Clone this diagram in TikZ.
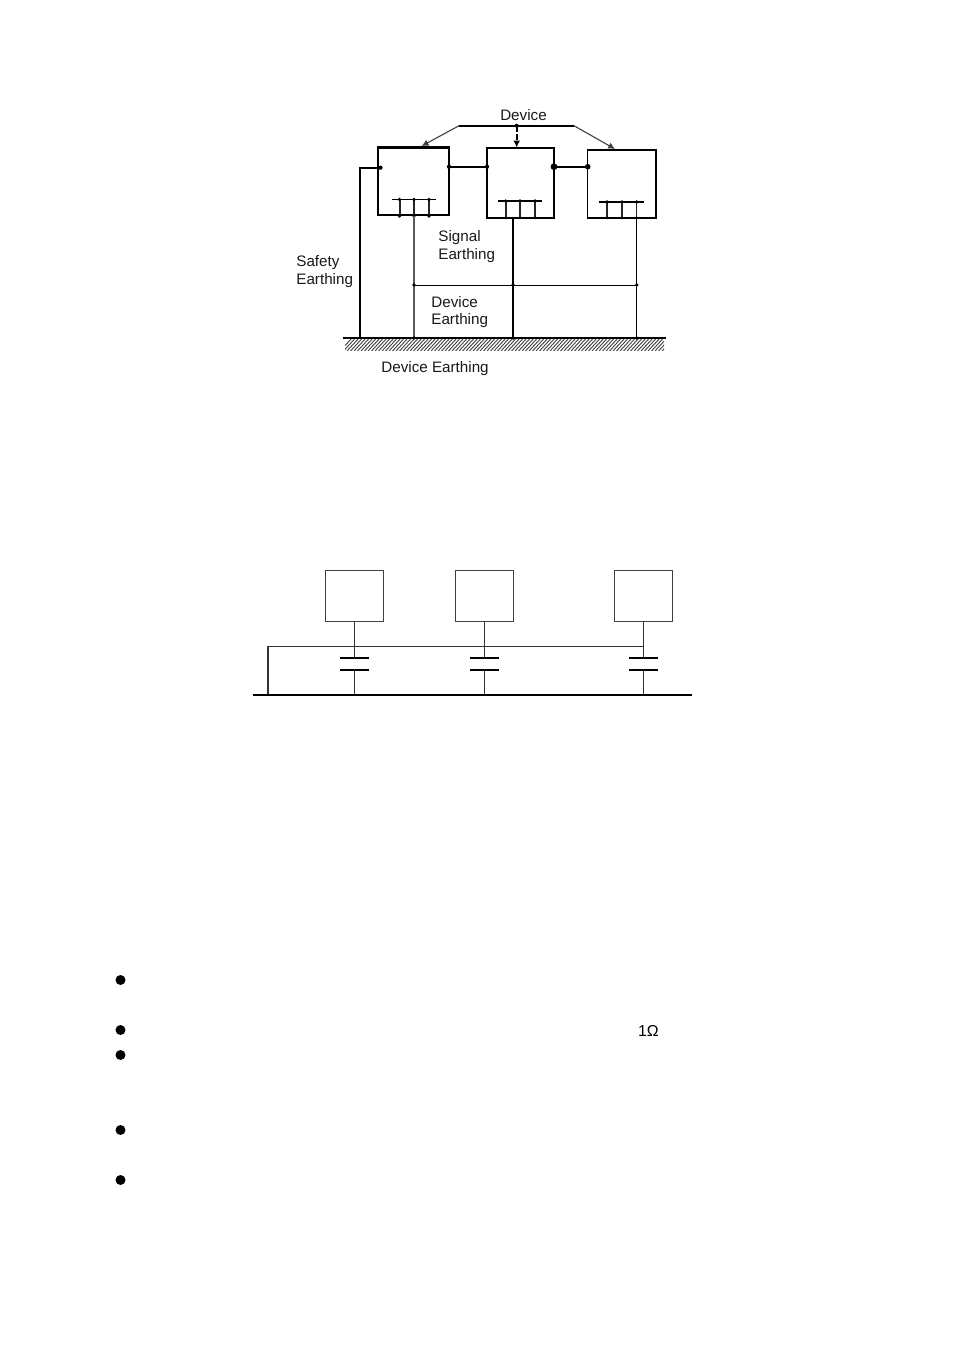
\documentclass[tikz,border=0pt]{standalone}
\usepackage{fontspec}
\setmainfont{Liberation Sans}
\usetikzlibrary{arrows.meta}
\tikzset{
  x=0.5pt,y=-0.5pt,
  wire/.style={draw=black,line width=0.6pt},
  heavy/.style={draw=black,line width=1pt},
  greywire/.style={draw=black!65,line width=0.75pt},
  thin wire/.style={draw=black!75,line width=0.55pt},
  bar/.style={draw=black,line width=1.1pt},
  lead/.style={draw=black!80,line width=0.75pt},
  tag/.style={anchor=west,inner sep=0pt,font=\fontsize{7.6}{9}\selectfont,text=black!90},
  dev/.style={draw=black,fill=none,inner sep=0pt,line width=#1},
  dev/.default=0.7pt,
  lower box/.style={draw=black!75,inner sep=0pt,line width=0.75pt,minimum width=29pt,minimum height=25.3pt},
  bullet/.style={circle,fill=black,inner sep=0pt,minimum size=5pt},
  dot/.style={circle,fill=black,inner sep=0pt,minimum size=#1},
  dot/.default=1.7pt
}
\begin{document}
\begin{tikzpicture}
\useasboundingbox (0,0) rectangle (954,1350);
\fill[white] (0,0) rectangle (954,1350);

% ----- upper diagram -----
\node[dev=1.1pt,minimum width=35.5pt,minimum height=33.75pt] (A) at (413.5,181.2) {};
\node[dev=0.95pt,minimum width=33.5pt,minimum height=34.75pt] (B) at (520.5,182.9) {};
\node[dev=0.65pt,minimum width=34.2pt,minimum height=34pt] (C) at (621.9,184) {};

% hatched ground
\begin{scope}
\clip (345,339) rectangle (664,350);
\foreach \k in {340,343.5,...,680}
  \draw[black!75,line width=0.45pt] (\k,351) -- (\k+12,338);
\end{scope}
\coordinate (gl) at (343,338);
\coordinate (gr) at (666,338);
\draw[line width=1pt] (gl) -- (gr);

% device brace
\coordinate (dl) at (459,125.7);
\coordinate (dr) at (574,125.7);
\coordinate (dm) at (516.7,125.7);
\coordinate (ta) at (421.7,146);
\coordinate (tb) at (516.7,147.5);
\coordinate (tc) at (615,149);
\draw[heavy] (dl) -- (dr);
\draw[thin wire,-{Latex[length=3.4pt,width=3.4pt]}] (dl) -- (ta);
\draw[thin wire,-{Latex[length=3.4pt,width=3.4pt]}] (dr) -- (tc);
\draw[heavy,dash pattern=on 3pt off 1pt,-{Latex[length=3.4pt,width=3.4pt]}] (dm) -- (tb);
\node[dot=2pt] at (dm) {};

% links between devices
\coordinate (a1) at (449,166.7);
\coordinate (b1) at (487,166.7);
\coordinate (b2) at (554,166.7);
\coordinate (c1) at (587.7,166.7);
\draw[heavy] (a1) -- (b1);
\draw[heavy] (b2) -- (c1);
\node[dot=2.1pt] at (a1) {};
\node[dot=2.1pt] at (b1) {};
\node[dot=3.4pt] at (b2) {};
\node[dot=2.8pt] at (c1) {};

% safety earthing
\coordinate (s1) at (380.5,167.7);
\coordinate (s2) at (360,167.7);
\coordinate (s3) at (360,338);
\draw[heavy] (s1) -- (s2) -- (s3);
\node[dot=2.1pt] at (s1) {};

% signal bars: box A
\coordinate (ab1) at (392,199.5); \coordinate (ab2) at (436,199.5);
\draw[wire] (ab1) -- (ab2);
\foreach \n/\px/\w in {p/399.5/1.0,q/414/0.75,r/429/1.0}{
  \coordinate (A\n t) at (\px,199.5);
  \coordinate (A\n b) at (\px,216);
  \draw[line width=\w pt,draw=black!85] (A\n t) -- (A\n b);
  \node[dot=1.8pt] at (A\n t) {};
  \node[dot=1.8pt] at (A\n b) {};
}
% box B
\coordinate (bb1) at (498,201); \coordinate (bb2) at (541.7,201);
\draw[heavy] (bb1) -- (bb2);
\foreach \n/\px/\w in {p/505.7/1.0,q/520/0.55,r/535/1.0}{
  \coordinate (B\n t) at (\px,201);
  \coordinate (B\n b) at (\px,218);
  \draw[line width=\w pt,draw=black!85] (B\n t) -- (B\n b);
  \node[dot=1.8pt] at (B\n t) {};
  \node[dot=1.4pt] at (B\n b) {};
}
% box C
\coordinate (cb1) at (599,202); \coordinate (cb2) at (643.7,202);
\draw[heavy] (cb1) -- (cb2);
\foreach \n/\px/\w in {p/607/0.6,q/622/1.0,r/636.7/0.6}{
  \coordinate (C\n t) at (\px,202);
  \coordinate (C\n b) at (\px,218);
  \draw[line width=\w pt,draw=black!85] (C\n t) -- (C\n b);
  \node[dot=1.8pt] at (C\n t) {};
  \node[dot=1.4pt] at (C\n b) {};
}

% verticals to ground
\coordinate (v1t) at (414,216);  \coordinate (v1m) at (414,285);  \coordinate (v1g) at (414,338);
\coordinate (v2t) at (513,218);  \coordinate (v2m) at (513,285);  \coordinate (v2g) at (513,338);
\coordinate (v3t) at (636.7,218);\coordinate (v3m) at (636.7,285);\coordinate (v3g) at (636.7,338);
\draw[greywire] (v1t) -- (v1g);
\draw[heavy] (v2t) -- (v2g);
\draw[wire] (v3t) -- (v3g);
\draw[wire,line width=0.5pt] (v1m) -- (v3m);
\foreach \p in {v1m,v2m,v3m,v1g,v2g,v3g}
  \node[dot=1.9pt] at (\p) {};

% labels
\node[tag,anchor=center] (l1) at (523.5,114.7) {Device};
\node[tag] (l2) at (438,237.3) {Signal};
\node[tag] (l3) at (438,255.3) {Earthing};
\node[tag] (l4) at (296,262.3) {Safety};
\node[tag] (l5) at (296,280.3) {Earthing};
\node[tag] (l6) at (431,301.8) {Device};
\node[tag] (l7) at (431,320.8) {Earthing};
\node[tag] (l8) at (381,368.3) {Device Earthing};

% ----- lower diagram -----
\node[lower box] (X) at (354.7,596) {};
\node[lower box] (Y) at (484.7,596) {};
\node[lower box] (Z) at (643.3,596) {};
\foreach \n/\px in {x/354.7,y/484.7,z/643.3}{
  \coordinate (\n j) at (\px,646.7);
  \coordinate (\n p) at (\px,658);
  \coordinate (\n q) at (\px,670);
  \coordinate (\n g) at (\px,695.3);
  \coordinate (\n pl) at (\px-14.5,658);
  \coordinate (\n pr) at (\px+14.5,658);
  \coordinate (\n ql) at (\px-14.5,670);
  \coordinate (\n qr) at (\px+14.5,670);
  \draw[bar] (\n pl) -- (\n pr);
  \draw[bar] (\n ql) -- (\n qr);
  \draw[lead] (\n q) -- (\n g);
}
\draw[lead] (X.south) -- (xp);
\draw[lead] (Y.south) -- (yp);
\draw[lead] (Z.south) -- (zp);
\coordinate (bs) at (268,695.3);
\coordinate (bt) at (268,646.7);
\draw[lead] (bs) -- (bt) -- (zj);
\coordinate (gnl) at (253.3,695.3);
\coordinate (gnr) at (692.3,695.3);
\draw[bar] (gnl) -- (gnr);

% ----- bullets -----
\node[bullet] (b1x) at (120.5,980) {};
\node[bullet] (b2x) at (120.5,1030) {};
\node[bullet] (b3x) at (120.5,1055) {};
\node[bullet] (b4x) at (120.5,1130) {};
\node[bullet] (b5x) at (120.5,1180) {};
\node[anchor=center,inner sep=0pt,font=\fontsize{7.9}{9}\selectfont] (ohm) at (648.5,1031) {1Ω};
\end{tikzpicture}
\end{document}
